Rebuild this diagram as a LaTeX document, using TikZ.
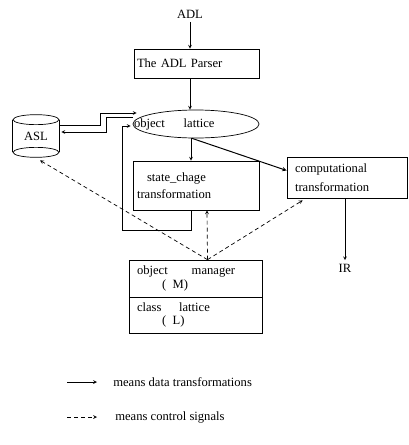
\documentclass[tikz,border=0pt]{standalone}
\usepackage{fontspec}
\setmainfont{Liberation Serif}
\usetikzlibrary{shapes.geometric}

\begin{document}
\begin{tikzpicture}[x=1pt,y=-1pt,>=stealth,line width=0.7pt,
  font=\fontsize{12.6}{14.5}\selectfont,
  box/.style={draw, align=left, inner ysep=0pt, inner xsep=4pt},
  ctlarrow/.style={->, dashed, dash pattern=on 4pt off 3pt}]
\useasboundingbox (0,0) rectangle (409,445);

% Draw the nodes
\node (adl) at (190,14) {ADL};
\node [box, inner xsep=3pt, text width=119pt, minimum height=29pt] (parser) at (196.5,63.5) {The ADL Parser};
\node [draw, ellipse, minimum width=126pt, minimum height=28pt, inner sep=0pt,
  label={[anchor=west, inner sep=1pt]west:object\hspace{1.5em}lattice}] (lattice) at (196,124) {};
\node [minimum width=46pt, minimum height=42pt, inner sep=0pt] (asl) at (36,136) {ASL};
\node [box, text width=118pt, minimum height=49pt] (state) at (196,185.5) {\hspace*{0.8em}state\_chage\\[3pt]transformation};
\node [box, inner xsep=8pt, text width=104pt, minimum height=41pt] (comp) at (347,177.5) {computational\\[5pt]transformation};
\node (ir) at (345,268) {IR};
\node [box, inner xsep=8pt, text width=117pt, minimum height=37pt] (mgr) at (195.5,278.5) {object\hspace{1.9em}manager\\[-1pt]\hspace*{2em}(\enspace M)};
\node [box, inner xsep=8pt, text width=117pt, minimum height=36pt] (cls) at (195.5,315) {class\hspace{1.4em}lattice\\[-1pt]\hspace*{2em}(\enspace L)};
\coordinate (ctl) at ([xshift=12pt]mgr.north);

% Draw the ASL store
\draw ([yshift=-5pt]asl.north) ellipse [x radius=23pt, y radius=5pt];
\draw ([yshift=5pt]asl.south) ellipse [x radius=23pt, y radius=5pt];
\draw ([yshift=-5pt]asl.north west) -- ([yshift=5pt]asl.south west);
\draw ([yshift=-5pt]asl.north east) -- ([yshift=5pt]asl.south east);

% Draw data flow
\draw [->] (adl) -- (adl |- parser.north);
\draw [->] (parser.south -| adl) -- (lattice.north -| adl);
\draw [->] ([yshift=11pt]asl.east) -| (100,113) -- ([shift={(4pt,11pt)}]lattice.west);
\draw [->] ([yshift=7pt]lattice.west) -| (106,132) -- ([shift={(2pt,4pt)}]asl.east);
\draw [->] ([xshift=-5pt]lattice.south) -- ([xshift=-5pt]state.north);
\draw [->] ([xshift=-5pt]state.south) -- ++(0,20) -| (122,126) -- ([shift={(-2pt,-2pt)}]lattice.west);
\draw [->, line width=1pt] ([xshift=-4pt]lattice.south) -- ([yshift=7pt]comp.west);
\draw [->] (comp.south -| ir) -- (ir);

% Draw control signals
\draw [ctlarrow] (ctl) -- ([shift={(4pt,-3pt)}]asl.south);
\draw [ctlarrow] (ctl) -- ([xshift=11pt]state.south);
\draw [ctlarrow] (ctl) -- ([shift={(16pt,-2pt)}]comp.south west);

% Draw legend
\coordinate (d1) at (67,382);
\coordinate (d2) at (97,382);
\coordinate (c1) at (67,417);
\coordinate (c2) at (97,417);
\draw [->] (d1) -- (d2);
\draw [ctlarrow] (c1) -- (c2);
\node [anchor=west, inner sep=0pt] (datatxt) at (113,382) {means data transformations};
\node [anchor=west, inner sep=0pt] (ctltxt) at (115,417) {means control signals};

\end{tikzpicture}
\end{document}
